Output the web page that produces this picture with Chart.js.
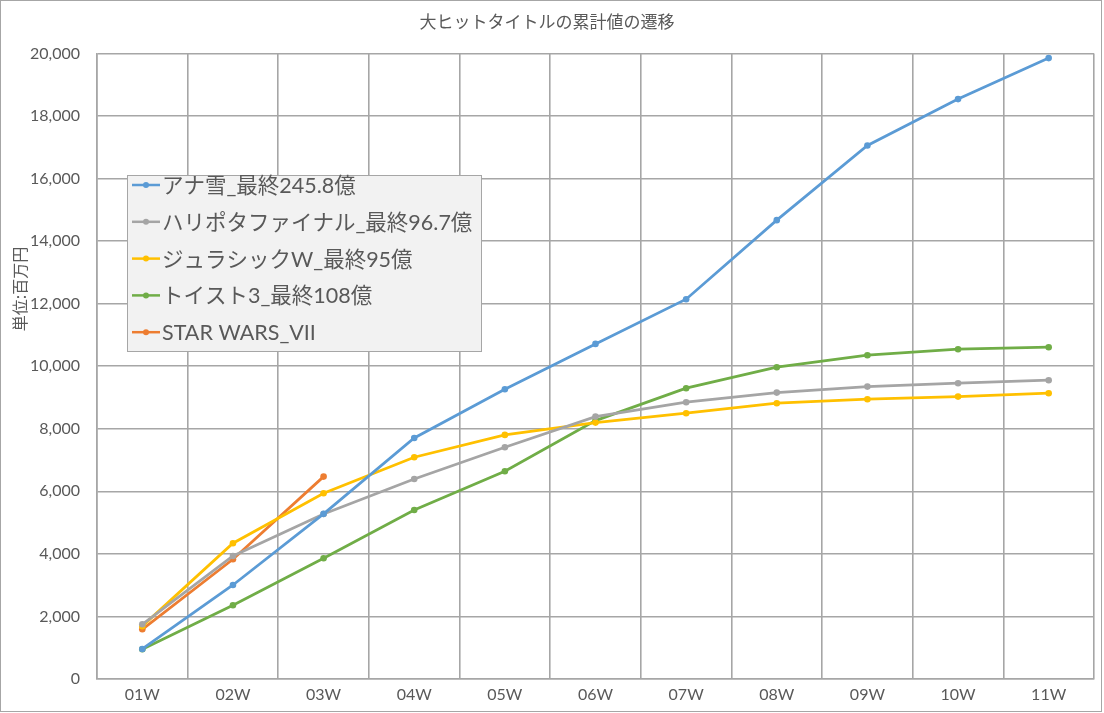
<!DOCTYPE html>
<html>
<head>
<meta charset="utf-8">
<script src="https://cdn.jsdelivr.net/npm/chart.js@4"></script>
<style>
  html, body { margin: 0; padding: 0; background: #fff; }
  #wrap { width: 1104px; height: 713px; }
</style>
</head>
<body>
<div id="wrap"><canvas id="lineChart" width="1104" height="713"></canvas></div>
<script>
// categories (weeks)
const weeks = ['01W', '02W', '03W', '04W', '05W', '06W', '07W', '08W', '09W', '10W', '11W'];

// cumulative box office, unit: million yen
const anaYuki = [960, 3006, 5280, 7707, 9265, 10713, 12142, 14669, 17055, 18539, 19850];
const hariPota = [1749, 3933, 5277, 6396, 7410, 8389, 8849, 9156, 9348, 9456, 9552];
const jurassic = [1690, 4340, 5939, 7090, 7803, 8197, 8497, 8817, 8945, 9028, 9137];
const toyStory = [950, 2357, 3860, 5404, 6642, 8261, 9297, 9968, 10352, 10544, 10608];
const starWars = [1589, 3828, 6470];

const seriesNames = ['アナ雪_最終245.8億', 'ハリポタファイナル_最終96.7億', 'ジュラシックW_最終95億', 'トイスト3_最終108億', 'STAR WARS_VII'];
const seriesColors = ['#5b9bd5', '#a5a5a5', '#ffc000', '#70ad47', '#ed7d31'];
const seriesData = [anaYuki, hariPota, jurassic, toyStory, starWars];

const chartTitle = '大ヒットタイトルの累計値の遷移';
const yTitle = '単位:百万円';

const textColor = '#595959';
const gridColor = '#a6a6a6';
const latinCjk = "Lato, 'Noto Sans CJK JP', sans-serif";

// frame + y title + legend box drawn by hand (Excel style)
const excelBits = {
    id: 'excelBits',
    beforeDraw(chart) {
        const ctx = chart.ctx;
        ctx.save();
        ctx.fillStyle = '#fff';
        ctx.fillRect(0, 0, chart.width, chart.height);
        ctx.strokeStyle = gridColor;
        ctx.lineWidth = 1;
        ctx.strokeRect(0.5, 0.5, 1101, 711);
        ctx.restore();
    },
    afterDraw(chart) {
        const ctx = chart.ctx;
        ctx.save();
        // y axis title
        ctx.translate(20, 289);
        ctx.rotate(-Math.PI / 2);
        ctx.fillStyle = textColor;
        ctx.font = "16px 'Noto Sans CJK JP', sans-serif";
        ctx.textAlign = 'center';
        ctx.textBaseline = 'middle';
        ctx.fillText(yTitle, 0, 0);
        ctx.restore();

        // legend
        ctx.save();
        ctx.fillStyle = '#f2f2f2';
        ctx.fillRect(127, 175, 354, 176);
        ctx.strokeStyle = gridColor;
        ctx.lineWidth = 1;
        ctx.strokeRect(127.5, 175.5, 354, 176);
        ctx.font = '21.5px ' + latinCjk;
        ctx.textBaseline = 'middle';
        chart.data.datasets.forEach((ds, i) => {
            const y = 185 + i * 36.8;
            ctx.strokeStyle = ds.borderColor;
            ctx.lineWidth = 2.5;
            ctx.beginPath();
            ctx.moveTo(132, y);
            ctx.lineTo(160, y);
            ctx.stroke();
            ctx.fillStyle = ds.borderColor;
            ctx.beginPath();
            ctx.arc(146, y, 3, 0, Math.PI * 2);
            ctx.fill();
            ctx.fillStyle = textColor;
            ctx.fillText(ds.label, 162, y + 1);
        });
        ctx.restore();
    }
};

const ctx = document.getElementById('lineChart').getContext('2d');
new Chart(ctx, {
    type: 'line',
    data: {
        labels: weeks,
        datasets: seriesData.map((d, i) => ({
            label: seriesNames[i],
            data: d,
            borderColor: seriesColors[i],
            backgroundColor: seriesColors[i],
            borderWidth: 2.75,
            pointRadius: 3.3,
            pointBorderWidth: 0,
            tension: 0,
            fill: false
        }))
    },
    options: {
        responsive: false,
        animation: false,
        layout: { padding: { left: 0, right: 10, top: 0, bottom: 0 } },
        plugins: {
            legend: { display: false },
            tooltip: { enabled: false },
            title: {
                display: true,
                text: chartTitle,
                color: textColor,
                font: { family: "'Noto Sans CJK JP', sans-serif", size: 17, weight: 'normal' },
                padding: { top: 11, bottom: 22 }
            }
        },
        scales: {
            x: {
                offset: true,
                grid: { color: gridColor, lineWidth: 1.6, drawTicks: false, offset: true },
                border: { color: gridColor, width: 1.6 },
                ticks: { color: textColor, font: { family: latinCjk, size: 16 }, padding: 6 },
                afterFit(scale) { scale.height = 34; }
            },
            y: {
                min: 0,
                max: 20000,
                grid: { color: gridColor, lineWidth: 1.6, drawTicks: false },
                border: { color: gridColor, width: 1.6 },
                ticks: {
                    stepSize: 2000,
                    color: textColor,
                    font: { family: latinCjk, size: 16 },
                    padding: 17,
                    callback: v => v.toLocaleString('en-US')
                },
                afterFit(scale) { scale.width = 97; }
            }
        }
    },
    plugins: [excelBits]
});
</script>
</body>
</html>
